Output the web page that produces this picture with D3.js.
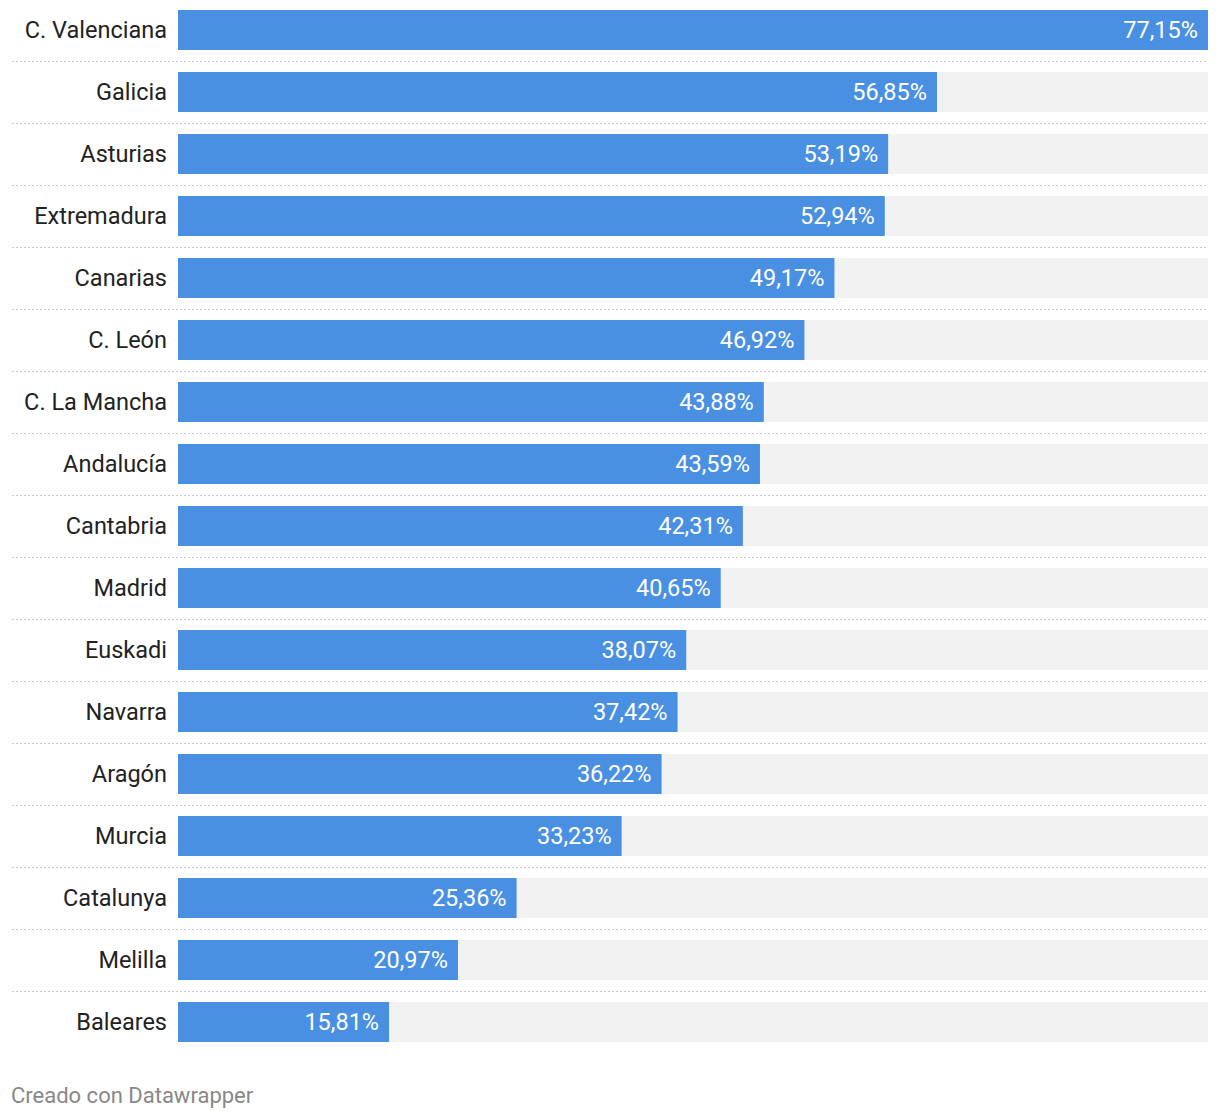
<!DOCTYPE html>
<html>
<head>
<meta charset="utf-8">
<script src="https://cdn.jsdelivr.net/npm/d3@7"></script>
<style>
  body { margin: 0; background: #fff; font-family: Roboto, sans-serif; }
</style>
</head>
<body>
<div id="chart"></div>
<script>
const regions = ['C. Valenciana', 'Galicia', 'Asturias', 'Extremadura', 'Canarias', 'C. León', 'C. La Mancha',
  'Andalucía', 'Cantabria', 'Madrid', 'Euskadi', 'Navarra', 'Aragón', 'Murcia', 'Catalunya', 'Melilla', 'Baleares']
const values = [77.15, 56.85, 53.19, 52.94, 49.17, 46.92, 43.88, 43.59, 42.31, 40.65, 38.07, 37.42, 36.22, 33.23, 25.36, 20.97, 15.81]

const width = 1220
const height = 1118
const margin = { top: 10, left: 178, right: 12 }
const step = 62
const barH = 40

const svg = d3.select('#chart').append('svg')
  .attr('width', width)
  .attr('height', height)

const x = d3.scaleLinear().domain([0, d3.max(values)]).range([margin.left, width - margin.right])
// bands of 40px with a 62px step
const y = d3.scaleBand().domain(regions)
  .range([margin.top, margin.top + step * regions.length - (step - barH)])
  .paddingInner((step - barH) / step).paddingOuter(0)

const fmt = (v) => d3.format('.2f')(v).replace('.', ',') + '%'

const row = svg.selectAll('.row').data(regions).join('g').attr('class', 'row')

row.append('rect')
  .attr('x', x(0)).attr('y', (d) => y(d))
  .attr('width', x.range()[1] - x(0)).attr('height', y.bandwidth())
  .attr('fill', '#f2f2f2')

row.append('rect')
  .attr('x', x(0)).attr('y', (d) => y(d))
  .attr('width', (d, i) => x(values[i]) - x(0)).attr('height', y.bandwidth())
  .attr('fill', '#4a90e2')

row.filter((d, i) => i < regions.length - 1).append('line')
  .attr('x1', 12).attr('x2', width - margin.right)
  .attr('y1', (d) => y(d) + barH + 11.5).attr('y2', (d) => y(d) + barH + 11.5)
  .attr('stroke', '#cccccc').attr('stroke-width', 1).attr('stroke-dasharray', '2,2')

row.append('text')
  .attr('x', margin.left - 11).attr('y', (d) => y(d) + barH / 2)
  .attr('dy', '0.35em').attr('text-anchor', 'end')
  .attr('font-size', 23.5).attr('fill', '#222')
  .text((d) => d)

row.append('text')
  .attr('x', (d, i) => x(values[i]) - 10).attr('y', (d) => y(d) + barH / 2)
  .attr('dy', '0.35em').attr('text-anchor', 'end')
  .attr('font-size', 23.5).attr('fill', '#fff')
  .text((d, i) => fmt(values[i]))

svg.append('text')
  .attr('x', 11).attr('y', 1095).attr('dy', '0.35em')
  .attr('font-size', 22).attr('fill', '#888')
  .text('Creado con Datawrapper')
</script>
</body>
</html>
